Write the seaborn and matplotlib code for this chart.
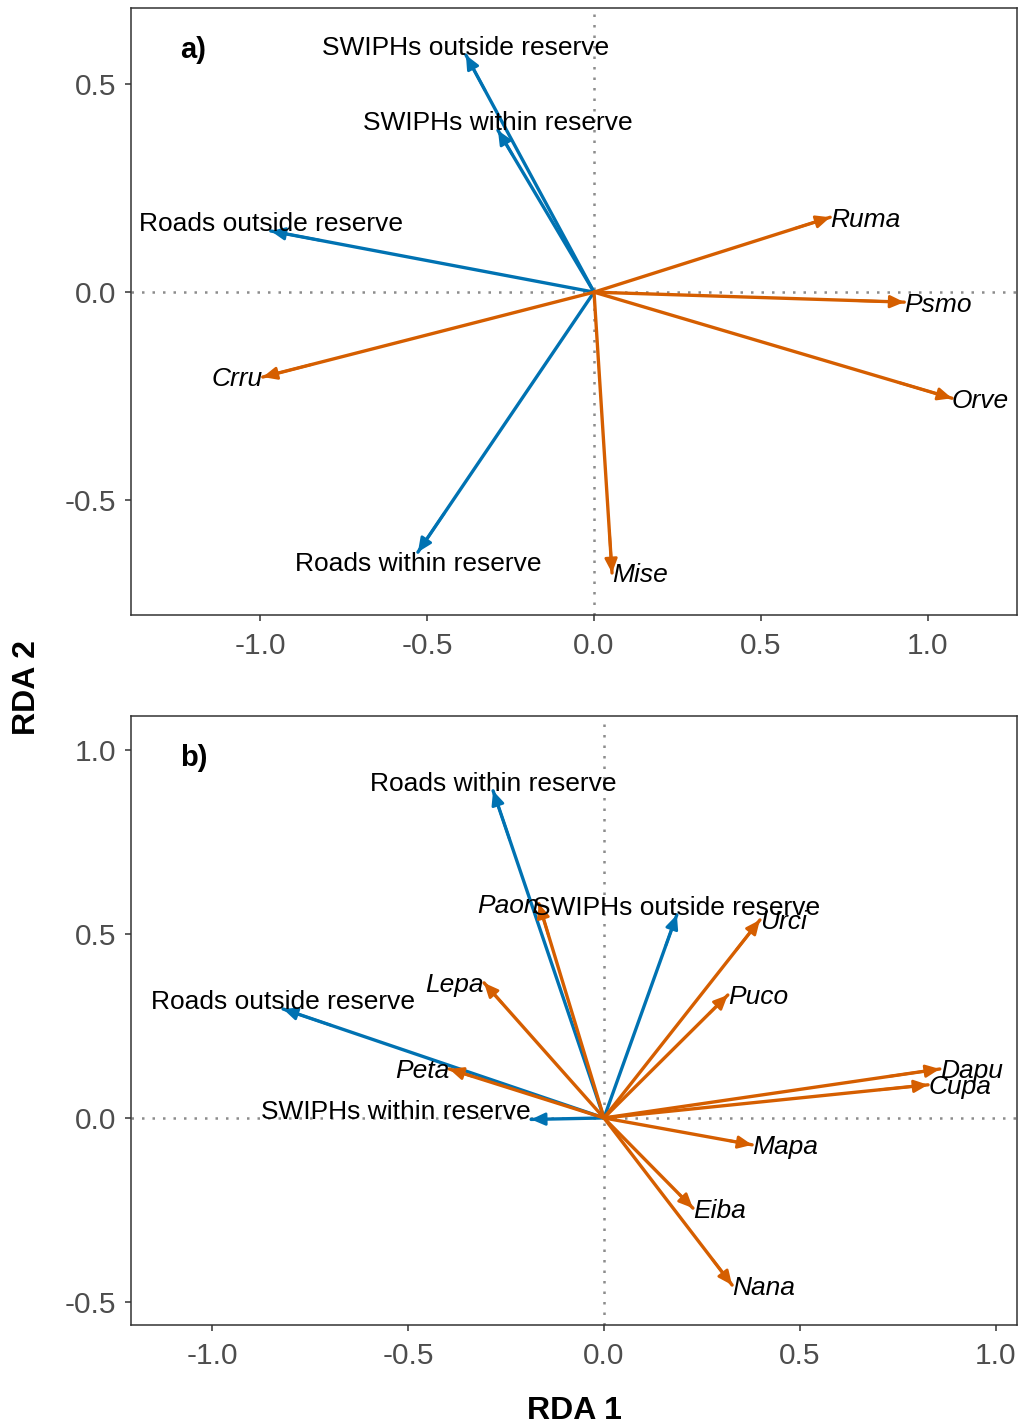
import numpy as np
import pandas as pd
import matplotlib
matplotlib.use("Agg")
import matplotlib.pyplot as plt
import seaborn as sns

# ---- data: RDA biplot scores ----
env_names_a = ["SWIPHs outside reserve", "SWIPHs within reserve",
               "Roads outside reserve", "Roads within reserve"]
env_x_a = [-0.384, -0.288, -0.969, -0.528]
env_y_a = [0.570, 0.389, 0.147, -0.625]

sp_names_a = ["Ruma", "Psmo", "Orve", "Mise", "Crru"]
sp_x_a = [0.708, 0.930, 1.073, 0.054, -0.993]
sp_y_a = [0.180, -0.024, -0.255, -0.675, -0.204]

env_names_b = ["SWIPHs outside reserve", "SWIPHs within reserve",
               "Roads outside reserve", "Roads within reserve"]
env_x_b = [0.186, -0.186, -0.819, -0.283]
env_y_b = [0.552, -0.004, 0.296, 0.889]

sp_names_b = ["Paon", "Lepa", "Peta", "Urci", "Puco",
              "Dapu", "Cupa", "Mapa", "Eiba", "Nana"]
sp_x_b = [-0.166, -0.306, -0.395, 0.398, 0.316, 0.857, 0.827, 0.378, 0.227, 0.327]
sp_y_b = [0.582, 0.367, 0.133, 0.538, 0.334, 0.133, 0.090, -0.073, -0.245, -0.454]

x_ticks = [-1.0, -0.5, 0.0, 0.5, 1.0]
y_ticks_a = [-0.5, 0.0, 0.5]
y_ticks_b = [-0.5, 0.0, 0.5, 1.0]

ENV_COLOR = "#0072B2"
SP_COLOR = "#D55E00"

sns.set_theme(style="ticks")
plt.rcParams["font.family"] = ["Liberation Sans", "DejaVu Sans"]
plt.rcParams["axes.unicode_minus"] = False
plt.rcParams["text.color"] = "black"

LABEL_FS = 19
CAP = 0.716 * LABEL_FS  # cap height in points


def draw_panel(ax, env_names, env_x, env_y, sp_names, sp_x, sp_y,
               xlim, ylim, yticks, tag):
    ax.axhline(0, color="#8c8c8c", lw=1.8, ls=(0, (1, 3.2)), zorder=1)
    ax.axvline(0, color="#8c8c8c", lw=1.8, ls=(0, (1, 3.2)), zorder=1)

    rows = []
    for n, x, y in zip(env_names, env_x, env_y):
        rows += [dict(name="env_" + n, group="env", x=0.0, y=0.0),
                 dict(name="env_" + n, group="env", x=x, y=y)]
    for n, x, y in zip(sp_names, sp_x, sp_y):
        rows += [dict(name="sp_" + n, group="sp", x=0.0, y=0.0),
                 dict(name="sp_" + n, group="sp", x=x, y=y)]
    df = pd.DataFrame(rows)

    sns.lineplot(data=df, x="x", y="y", hue="group", units="name",
                 estimator=None, sort=False, legend=False,
                 palette={"env": ENV_COLOR, "sp": SP_COLOR},
                 lw=2.4, ax=ax, zorder=2)

    head = dict(arrowstyle="-|>,head_length=0.6,head_width=0.27",
                lw=2.0, shrinkA=0, shrinkB=0, mutation_scale=14)
    for x, y in zip(sp_x, sp_y):
        ax.annotate("", xy=(x, y), xytext=(0.85 * x, 0.85 * y),
                    arrowprops=dict(color=SP_COLOR, **head), zorder=3)
    for x, y in zip(env_x, env_y):
        ax.annotate("", xy=(x, y), xytext=(0.85 * x, 0.85 * y),
                    arrowprops=dict(color=ENV_COLOR, **head), zorder=3)

    # species labels: italic, beside the arrow tip
    for n, x, y in zip(sp_names, sp_x, sp_y):
        ax.annotate(n, xy=(x, y), xytext=(0, -CAP / 2), textcoords="offset points",
                    ha="left" if x > 0 else "right", va="baseline",
                    fontsize=LABEL_FS, style="italic", color="black", zorder=4)

    # explanatory variable labels: above/below the tip
    for n, x, y in zip(env_names, env_x, env_y):
        if abs(y) < 0.05:
            ha, dy = ("right" if x < 0 else "left"), 0
        elif y > 0:
            ha, dy = "center", 0
        else:
            ha, dy = "center", -CAP
        ax.annotate(n, xy=(x, y), xytext=(0, dy), textcoords="offset points",
                    ha=ha, va="baseline", fontsize=LABEL_FS, color="black",
                    zorder=4)

    ax.set_xlim(*xlim)
    ax.set_ylim(*ylim)
    ax.set_xticks(x_ticks)
    ax.set_yticks(yticks)
    ax.set_xticklabels([f"{v:.1f}" for v in x_ticks])
    ax.set_yticklabels([f"{v:.1f}" for v in yticks])
    ax.set_xlabel("")
    ax.set_ylabel("")
    ax.grid(False)
    for s in ax.spines.values():
        s.set_visible(True)
        s.set_color("#333333")
        s.set_linewidth(1.1)
    ax.tick_params(direction="out", length=4.5, width=1.1, color="#333333",
                   labelcolor="#4d4d4d", labelsize=21.5, pad=6)
    ax.tick_params(axis="x", pad=8)
    ax.text(0.055, 0.918, tag, transform=ax.transAxes, fontsize=21,
            fontweight="bold", va="baseline", ha="left", color="black")


fig = plt.figure(figsize=(10.21, 14.28), dpi=100)
fig.patch.set_facecolor("white")
ax_a = fig.add_axes([131 / 1021, 1 - 615 / 1428, 886 / 1021, 607 / 1428])
ax_b = fig.add_axes([131 / 1021, 1 - 1325 / 1428, 886 / 1021, 609 / 1428])

draw_panel(ax_a, env_names_a, env_x_a, env_y_a, sp_names_a, sp_x_a, sp_y_a,
           (-1.388, 1.268), (-0.776, 0.683), y_ticks_a, "a)")
draw_panel(ax_b, env_names_b, env_x_b, env_y_b, sp_names_b, sp_x_b, sp_y_b,
           (-1.207, 1.054), (-0.5625, 1.092), y_ticks_b, "b)")

fig.text(27 / 1021, 1 - 688 / 1428, "RDA 2", rotation=90, ha="center",
         va="center", fontsize=23, fontweight="bold", color="black")
fig.text(574 / 1021, 9 / 1428, "RDA 1", ha="center", va="baseline",
         fontsize=23, fontweight="bold", color="black")

fig.savefig("out.png", dpi=100)
